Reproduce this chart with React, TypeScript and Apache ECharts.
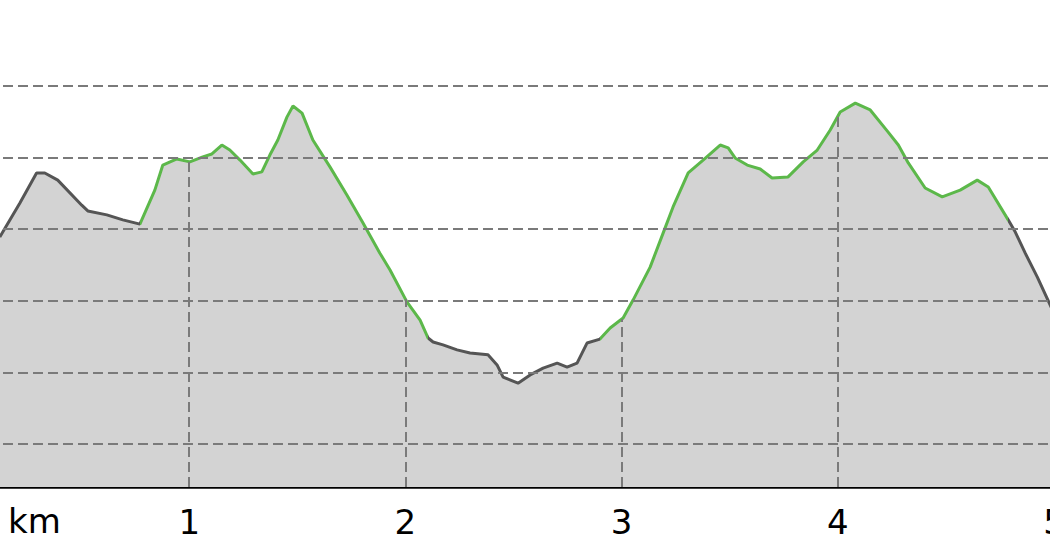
import React, { useEffect, useRef } from 'react';
import * as echarts from 'echarts';

// distance along route (km)
const distanceKm = [
  0.124, 0.217, 0.294, 0.332, 0.392, 0.503, 0.531, 0.619, 0.693, 0.772,
  0.841, 0.878, 0.943, 1.003, 1.063, 1.105, 1.151, 1.188, 1.235, 1.295,
  1.336, 1.373, 1.41, 1.452, 1.48, 1.522, 1.572, 1.651, 1.73, 1.804,
  1.882, 1.929, 2.007, 2.068, 2.105, 2.128, 2.174, 2.239, 2.299, 2.382,
  2.424, 2.452, 2.521, 2.577, 2.637, 2.702, 2.748, 2.794, 2.84, 2.9,
  2.947, 3.007, 3.053, 3.132, 3.192, 3.238, 3.308, 3.377, 3.456, 3.493,
  3.525, 3.581, 3.641, 3.696, 3.77, 3.84, 3.905, 3.965, 4.011, 4.081,
  4.15, 4.233, 4.28, 4.326, 4.404, 4.483, 4.566, 4.645, 4.696, 4.788,
  4.821, 4.867, 4.923, 4.993,
];

// elevation (m)
const elevation = [
  177.8, 187.3, 195.7, 195.7, 193.7, 186.7, 185.1, 184.0, 182.6, 181.4,
  190.9, 197.9, 199.6, 198.8, 200.2, 201.0, 203.5, 202.1, 199.3, 195.4,
  196.0, 200.7, 204.9, 211.3, 214.4, 212.4, 204.9, 197.4, 189.5, 181.7,
  173.3, 168.6, 159.7, 154.6, 149.6, 148.5, 147.7, 146.3, 145.4, 144.9,
  142.1, 138.7, 137.0, 139.3, 141.2, 142.6, 141.5, 142.6, 148.2, 149.3,
  152.4, 155.2, 160.2, 169.4, 178.9, 186.2, 195.7, 199.3, 203.5, 202.7,
  199.9, 197.9, 196.8, 194.3, 194.6, 198.8, 202.1, 207.7, 212.7, 215.2,
  213.3, 207.1, 203.5, 198.5, 191.5, 189.0, 190.9, 193.7, 191.8, 182.6,
  179.2, 173.3, 166.6, 157.4,
];

const kmTicks = [1, 2, 3, 4];
const gridLevels = [120, 140, 160, 180, 200, 220];
// where the line colour switches (km): gray | green | gray | green | gray
const segmentBreaks = [0.772, 2.105, 2.9, 4.788];

const Y_MIN = 108;
const Y_MAX = 244;
const GRAY = '#555555';
const GREEN = '#5cb84a';
const SHIFT = 27; // the 0 km point sits left of the visible page

function elevationAt(km: number): number {
  for (let i = 0; i < distanceKm.length - 1; i++) {
    const a = distanceKm[i];
    const b = distanceKm[i + 1];
    if (km >= a && km <= b) {
      const t = (km - a) / (b - a);
      return elevation[i] + t * (elevation[i + 1] - elevation[i]);
    }
  }
  return elevation[elevation.length - 1];
}

export default function App() {
  const ref = useRef<HTMLDivElement>(null);

  useEffect(() => {
    document.body.style.margin = '0';
    if (!ref.current) return;
    const chart = echarts.init(ref.current, null, { renderer: 'svg' });
    const data = distanceKm.map((d, i) => [d, elevation[i]]);

    const hLines = gridLevels.map((v) => ({ yAxis: v }));
    const vLines = kmTicks.map((k) => [
      { coord: [k, Y_MIN] },
      { coord: [k, elevationAt(k)] },
    ]);

    chart.setOption({
      animation: false,
      backgroundColor: '#ffffff',
      grid: {
        left: 0,
        right: 0,
        top: 0,
        bottom: 73,
        containLabel: false,
        outerBoundsMode: 'none',
      },
      xAxis: {
        type: 'value',
        min: 0,
        max: 5,
        interval: 1,
        axisLine: { show: true, lineStyle: { color: '#000', width: 2.5 } },
        axisTick: { show: false },
        splitLine: { show: false },
        axisLabel: {
          show: true,
          fontSize: 34,
          fontFamily: 'DejaVu Sans',
          color: '#000',
          margin: 18,
          hideOverlap: false,
          formatter: (v: number) => (v === 0 ? '' : String(v)),
        },
      },
      yAxis: {
        type: 'value',
        min: Y_MIN,
        max: Y_MAX,
        show: false,
        splitLine: { show: false },
      },
      visualMap: {
        show: false,
        type: 'piecewise',
        dimension: 0,
        seriesIndex: 1,
        pieces: [
          { lt: segmentBreaks[0], color: GRAY },
          { gte: segmentBreaks[0], lt: segmentBreaks[1], color: GREEN },
          { gte: segmentBreaks[1], lt: segmentBreaks[2], color: GRAY },
          { gte: segmentBreaks[2], lt: segmentBreaks[3], color: GREEN },
          { gte: segmentBreaks[3], color: GRAY },
        ],
      },
      graphic: [
        {
          type: 'text',
          left: 8 + SHIFT,
          top: 504,
          style: { text: 'km', fontSize: 34, fontFamily: 'DejaVu Sans', fill: '#000' },
        },
      ],
      series: [
        {
          type: 'line',
          data,
          z: 1,
          symbol: 'none',
          silent: true,
          lineStyle: { width: 0, color: 'transparent' },
          areaStyle: { color: '#d3d3d3', opacity: 1 },
          markLine: {
            silent: true,
            symbol: ['none', 'none'],
            label: { show: false },
            lineStyle: { type: [10, 5], color: '#7a7a7a', width: 2 },
            data: [...hLines, ...vLines],
          },
        },
        {
          type: 'line',
          data,
          z: 3,
          symbol: 'none',
          silent: true,
          lineStyle: { width: 3 },
        },
      ],
    });

    return () => chart.dispose();
  }, []);

  return (
    <div style={{ width: 1050, height: 560, overflow: 'hidden', position: 'relative' }}>
      <div ref={ref} style={{ width: 1050 + SHIFT + 4, height: 560, marginLeft: -SHIFT }} />
    </div>
  );
}
